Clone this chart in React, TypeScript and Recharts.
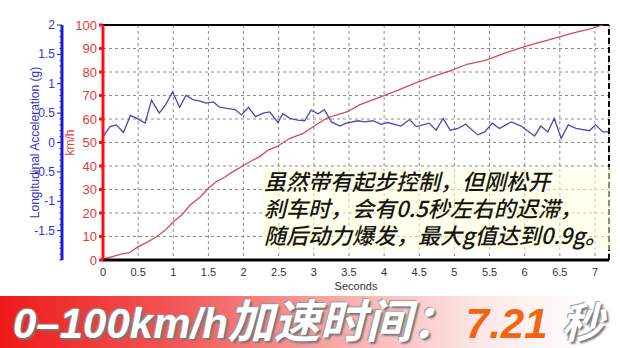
import React from 'react';
import { LineChart, Line, XAxis, YAxis, CartesianGrid, ReferenceLine, Label } from 'recharts';

// longitudinal acceleration (g)
const accelTime = [0, 0.1, 0.19, 0.29, 0.39, 0.48, 0.6, 0.69, 0.8, 0.89, 0.99, 1.09, 1.18, 1.28, 1.37, 1.47, 1.57, 1.66, 1.76, 1.88, 1.97, 2.07, 2.17, 2.28, 2.37, 2.49, 2.56, 2.66, 2.77, 2.87, 2.96, 3.06, 3.15, 3.25, 3.37, 3.46, 3.63, 3.72, 3.84, 3.96, 4.05, 4.24, 4.36, 4.46, 4.64, 4.74, 4.84, 4.94, 5.05, 5.16, 5.33, 5.43, 5.54, 5.64, 5.81, 5.95, 6.14, 6.23, 6.33, 6.42, 6.52, 6.62, 6.73, 6.92, 7.01, 7.11, 7.19];
const accelG = [0.1, 0.27, 0.3, 0.17, 0.46, 0.41, 0.33, 0.72, 0.5, 0.64, 0.86, 0.6, 0.8, 0.73, 0.71, 0.67, 0.69, 0.6, 0.58, 0.56, 0.47, 0.6, 0.44, 0.5, 0.52, 0.34, 0.49, 0.41, 0.38, 0.37, 0.55, 0.49, 0.56, 0.35, 0.28, 0.33, 0.37, 0.35, 0.37, 0.31, 0.34, 0.28, 0.39, 0.27, 0.33, 0.21, 0.41, 0.21, 0.24, 0.31, 0.13, 0.18, 0.33, 0.24, 0.35, 0.28, 0.11, 0.28, 0.18, 0.41, 0.07, 0.3, 0.24, 0.2, 0.3, 0.18, 0.18];

// speed (km/h)
const speedTime = [0, 0.27, 0.38, 0.5, 0.62, 0.76, 0.88, 1.0, 1.12, 1.24, 1.38, 1.5, 1.61, 1.73, 1.85, 1.97, 2.09, 2.23, 2.35, 2.47, 2.66, 2.85, 2.99, 3.18, 3.32, 3.48, 3.65, 3.96, 4.2, 4.46, 4.69, 4.95, 5.19, 5.43, 5.69, 5.92, 6.16, 6.42, 6.68, 6.92, 7.11];
const speedKmh = [0.3, 2.6, 3.1, 5.7, 7.4, 9.9, 12.5, 16.3, 19.1, 23.4, 26.7, 30.5, 33.3, 35.2, 37.6, 39.7, 41.8, 44.0, 46.8, 48.2, 51.8, 53.9, 56.7, 60.3, 61.7, 63.1, 66, 69.5, 72.3, 75.5, 78, 80.6, 83.4, 84.8, 87.7, 90.1, 92.2, 94.3, 96.5, 98.2, 100];

const secondTicks = [0, 0.5, 1, 1.5, 2, 2.5, 3, 3.5, 4, 4.5, 5, 5.5, 6, 6.5, 7];
const speedTicks = [0, 10, 20, 30, 40, 50, 60, 70, 80, 90, 100];
const gLabels = [2, 1.5, 1, 0.5, 0, -0.5, -1, -1.5];

const annotation = ['虽然带有起步控制，但刚松开', '刹车时，会有0.5秒左右的迟滞，', '随后动力爆发，最大g值达到0.9g。'];

const accelData = accelTime.map((t, i) => ({ t, g: accelG[i] }));
const speedData = speedTime.map((t, i) => ({ t, v: speedKmh[i] }));

// minor ticks every 0.1 g on the blue axis
const gTicks: number[] = [];
for (let i = -20; i <= 20; i++) gTicks.push(i / 10);

const FONT = '"Liberation Sans", Arial, sans-serif';
// ids sort so the speed axis sits next to the plot and the g axis outside it
const SPEED = 'a_speed';
const ACCEL = 'b_accel';

const GTick = (props: any) => {
  const { x, y, payload } = props;
  const v = payload.value;
  const major = gLabels.some((m) => Math.abs(m - v) < 1e-6);
  return (
    <g>
      <line x1={x - (major ? 5 : 2.5)} x2={x} y1={y} y2={y} stroke="#1a1ad8" strokeWidth={1} />
      {major && (
        <text x={x - 7} y={y} dy={4} textAnchor="end" fill="#3434c4" fontSize={12} fontFamily={FONT}>
          {String(Number(v.toFixed(1)))}
        </text>
      )}
    </g>
  );
};

export default function App() {
  return (
    <div style={{ position: 'absolute', left: 0, top: 0, width: 620, height: 348, background: '#fff', overflow: 'hidden' }}>
      <LineChart width={620} height={348} margin={{ top: 25, right: 11, bottom: 0, left: 22 }}>
        <CartesianGrid yAxisId={SPEED} strokeDasharray="3 3" stroke="#8a8a8a" />
        <XAxis
          dataKey="t"
          type="number"
          domain={[0, 7.2]}
          ticks={secondTicks}
          allowDataOverflow
          height={88}
          stroke="#000"
          strokeWidth={3}
          tickLine={false}
          tickSize={4}
          tickMargin={4}
          tick={{ fill: '#333', fontSize: 11, fontFamily: FONT }}
          interval={0}
        >
          <Label value="Seconds" position="insideTop" offset={22} fill="#333" fontSize={11} fontFamily={FONT} />
        </XAxis>
        <YAxis
          yAxisId={SPEED}
          domain={[0, 100]}
          ticks={speedTicks}
          width={41}
          stroke="#ff1010"
          strokeWidth={3}
          tickSize={4}
          interval={0}
          tick={{ fill: '#e23a3a', fontSize: 13, fontFamily: FONT }}
        >
          <Label value="km/h" angle={-90} position="center" dx={-13} fill="#e23a3a" fontSize={12} fontFamily={FONT} />
        </YAxis>
        <YAxis
          yAxisId={ACCEL}
          domain={[-2, 2]}
          ticks={gTicks}
          width={40}
          stroke="#1a1ad8"
          strokeWidth={3}
          tickSize={0}
          tickMargin={0}
          tickLine={false}
          interval={0}
          tick={<GTick />}
        >
          <Label value="Longitudinal Acceleration (g)" angle={-90} position="center" dx={-7} fill="#3434c4" fontSize={12} fontFamily={FONT} />
        </YAxis>
        <ReferenceLine yAxisId={SPEED} y={100} stroke="#000" strokeWidth={2} />
        <ReferenceLine yAxisId={SPEED} x={7.2} stroke="#000" strokeWidth={2} strokeDasharray="6 3" />
        <Line
          data={speedData}
          dataKey="v"
          yAxisId={SPEED}
          type="linear"
          stroke="#d44a5a"
          strokeWidth={1.3}
          dot={false}
          isAnimationActive={false}
        />
        <Line
          data={accelData}
          dataKey="g"
          yAxisId={ACCEL}
          type="linear"
          stroke="#4a48b4"
          strokeWidth={1.3}
          dot={false}
          isAnimationActive={false}
        />
      </LineChart>

      <div
        style={{
          position: 'absolute',
          left: 262,
          top: 167,
          width: 348,
          padding: '0 0 2px 2px',
          background: 'rgba(255,255,222,0.55)',
          fontFamily: '"Noto Sans CJK SC", sans-serif',
          fontSize: 22,
          fontWeight: 500,
          fontStyle: 'italic',
          lineHeight: '27px',
          color: '#151515',
          textShadow: '0 0 3px #ffffd8, 0 0 2px #ffffd8',
          whiteSpace: 'nowrap',
        }}
      >
        {annotation.map((line) => (
          <div key={line} style={{ height: 27 }}>{line}</div>
        ))}
      </div>

      <div
        style={{
          position: 'absolute',
          left: 0,
          top: 296,
          width: 620,
          height: 52,
          background: 'linear-gradient(to right, #ee1a1a 0%, #f35a5a 30%, #f9b4b4 58%, #fde8e8 78%, #ffffff 95%)',
        }}
      >
        <div
          style={{
            position: 'absolute',
            left: 13,
            top: 1,
            whiteSpace: 'nowrap',
            fontFamily: '"Liberation Sans", "Noto Sans CJK SC", sans-serif',
            fontWeight: 700,
            fontStyle: 'italic',
            fontSize: 42,
            lineHeight: '50px',
            color: '#fff',
            textShadow: '2px 2px 2px #777, -1px -1px 1px #999',
          }}
        >
          <span>0–100km/h</span>
          <span style={{ fontSize: 46 }}>加速时间：</span>
          <span style={{ color: '#f26412', marginLeft: 8, textShadow: 'none' }}>7.21</span>
          <span style={{ marginLeft: 14, fontSize: 42 }}>秒</span>
        </div>
      </div>
    </div>
  );
}
